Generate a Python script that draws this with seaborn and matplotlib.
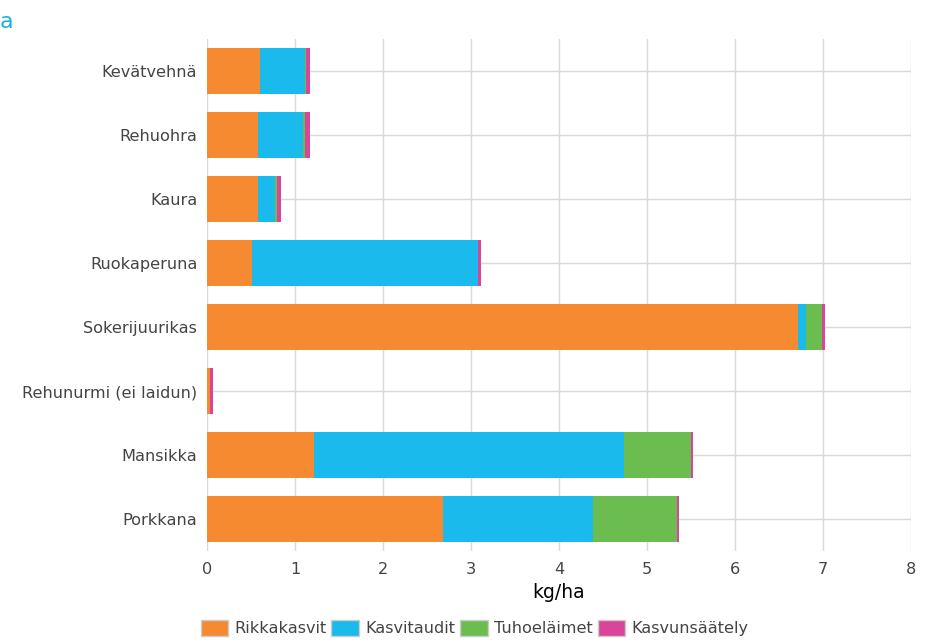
import numpy as np
import pandas as pd
import matplotlib
matplotlib.use("Agg")
import matplotlib.pyplot as plt
import seaborn as sns
from matplotlib.patches import Patch

# Kasvit (ylhäältä alas)
crops = ['Kevätvehnä', 'Rehuohra', 'Kaura', 'Ruokaperuna', 'Sokerijuurikas',
         'Rehunurmi (ei laidun)', 'Mansikka', 'Porkkana']

# Käyttömäärät kg/ha torjuntakohteittain
rikkakasvit = [0.60, 0.58, 0.58, 0.51, 6.72, 0.035, 1.22, 2.68]
kasvitaudit = [0.515, 0.515, 0.19, 2.57, 0.09, 0.0, 3.52, 1.71]
tuhoelaimet = [0.01, 0.015, 0.03, 0.0, 0.18, 0.0, 0.76, 0.95]
kasvunsaately = [0.045, 0.06, 0.04, 0.03, 0.03, 0.035, 0.02, 0.02]

series = ['Rikkakasvit', 'Kasvitaudit', 'Tuhoeläimet', 'Kasvunsäätely']
colors = ['#F58A31', '#1ABAED', '#6CBD4F', '#DA4499']

df = pd.DataFrame({'crop': crops, 'Rikkakasvit': rikkakasvit, 'Kasvitaudit': kasvitaudit,
                   'Tuhoeläimet': tuhoelaimet, 'Kasvunsäätely': kasvunsaately})
# kumulatiiviset summat pinottuja palkkeja varten
cum = df[series].cumsum(axis=1)
cum['crop'] = df['crop']

sns.set_style('white')
plt.rcParams['font.family'] = ['DejaVu Sans']

fig = plt.figure(figsize=(9.34, 6.43), dpi=100)
ax = fig.add_axes([207 / 934, 1 - 551 / 643, 704 / 934, 512 / 643])

# piirretään suurimmasta summasta pienimpään
for s, c in reversed(list(zip(series, colors))):
    sns.barplot(data=cum, x=s, y='crop', order=crops, color=c, width=0.73,
                saturation=1, linewidth=0, ax=ax, zorder=2)

ax.set_xlim(0, 8)
ax.set_xticks(range(0, 9))
ax.grid(True, color='#D9D9D9', linewidth=1, zorder=0)
ax.set_axisbelow(True)
for sp in ax.spines.values():
    sp.set_visible(False)
ax.tick_params(axis='both', length=0, colors='#444444', labelsize=11.6)
ax.tick_params(axis='y', pad=7)
ax.tick_params(axis='x', pad=8)
ax.set_ylabel('')
ax.set_xlabel('kg/ha', fontsize=13.5, color='black', labelpad=4)

handles = [Patch(facecolor=c, edgecolor='#CCCCCC', linewidth=1, label=s) for s, c in zip(series, colors)]
fig.legend(handles=handles, loc='lower center', bbox_to_anchor=(0.508, -0.012), ncol=4,
           frameon=False, fontsize=11.6, handlelength=1.7, handleheight=1.2,
           handletextpad=0.4, columnspacing=0.3, labelcolor='#444444')

fig.text(0.0, 1 - 22 / 643, 'a', color='#1AAEE6', fontsize=16, va='center', ha='left')

fig.savefig('out.png', dpi=100)
